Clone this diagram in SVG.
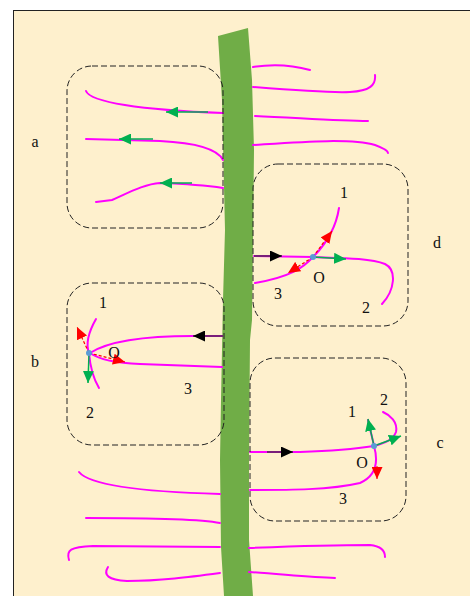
<svg xmlns="http://www.w3.org/2000/svg" width="470" height="596" viewBox="0 0 470 596">
<defs>
<style>
.mg{fill:none;stroke:#FF00FF;stroke-width:2;stroke-linecap:round}
.box{fill:none;stroke:#222;stroke-width:1;stroke-dasharray:6 3}
.lbl{font-family:"Liberation Serif",serif;font-size:16px;fill:#111;text-anchor:middle}
.gl{stroke:#00B050;stroke-width:1.5;fill:none}
.rl{stroke:#FF0000;stroke-width:1.2;fill:none;stroke-dasharray:3 2}
.bl{stroke:#7A1E7A;stroke-width:2;fill:none}
</style>
<marker id="ag" markerUnits="userSpaceOnUse" markerWidth="12" markerHeight="11" refX="12" refY="5.5" orient="auto"><path d="M0,0 L12,5.5 L0,11 z" fill="#00B050"/></marker>
<marker id="ar" markerUnits="userSpaceOnUse" markerWidth="12" markerHeight="11" refX="12" refY="5.5" orient="auto"><path d="M0,0 L12,5.5 L0,11 z" fill="#FF0000"/></marker>
<marker id="ak" markerUnits="userSpaceOnUse" markerWidth="12" markerHeight="11" refX="12" refY="5.5" orient="auto"><path d="M0,0 L12,5.5 L0,11 z" fill="#000"/></marker>
</defs>
<rect x="0" y="0" width="470" height="596" fill="#fff"/>
<rect x="13.5" y="10.5" width="470" height="600" fill="#FEF0CD" stroke="#222" stroke-width="1"/>

<g id="band">
<path d="M218,36 L222,100 L225,230 L223,300 L221,400 L220,460 L221,547 L224,596 L253,596 L249,540 L249,460 L250,340 L252,320 L253,240 L254,150 L252,80 L248,28 Z" fill="#70AD47"/>
</g>

<g id="connectors">
<path class="mg" d="M86,91 C90,102 140,110 223,113"/>
<path class="mg" d="M86,139 L160,141 C200,143 218,150 223,160"/>
<path class="mg" d="M96,202 L112,200 C130,192 145,184 160,183 C190,184 210,186 223,188"/>
<path class="mg" d="M253,67 C265,65 285,63 310,70"/>
<path class="mg" d="M253,87 C290,90 330,93 350,92 C370,91 376,85 375,75"/>
<path class="mg" d="M255,116 C300,118 340,121 368,121"/>
<path class="mg" d="M253,145 C300,142 350,138 375,145 C383,148 388,151 388,153"/>
<line class="gl" x1="208" y1="112" x2="166" y2="112" marker-end="url(#ag)"/>
<line class="gl" x1="153" y1="139" x2="119" y2="139" marker-end="url(#ag)"/>
<line class="gl" x1="192" y1="183" x2="160" y2="183" marker-end="url(#ag)"/>

<path class="mg" d="M254,256 L313,257 C340,258 370,258 385,264 C397,270 395,290 382,304"/>
<path class="mg" d="M339,208 C336,228 325,245 313,257 C303,268 290,277 255,283"/>
<line class="bl" x1="254" y1="256" x2="282" y2="256" marker-end="url(#ak)"/>
<line class="gl" x1="313" y1="257" x2="346" y2="259" marker-end="url(#ag)"/>
<line class="rl" x1="313" y1="257" x2="332" y2="231" marker-end="url(#ar)"/>
<line class="rl" x1="313" y1="257" x2="288" y2="273" marker-end="url(#ar)"/>

<path class="mg" d="M222,336 L193,336 C150,336 110,340 90,353 C100,360 115,363 140,364 L222,367"/>
<path class="mg" d="M96,319 C88,333 86,345 89,353 C90,365 93,378 99,388"/>
<line class="bl" x1="223" y1="336" x2="193" y2="336" marker-end="url(#ak)"/>
<line class="rl" x1="89" y1="353" x2="77" y2="327" marker-end="url(#ar)"/>
<line class="rl" x1="89" y1="353" x2="125" y2="362" marker-end="url(#ar)"/>
<line class="gl" x1="89" y1="353" x2="88" y2="383" marker-end="url(#ag)"/>

<path class="mg" d="M250,452 L300,452 C330,451 355,449 374,446"/>
<path class="mg" d="M374,446 C385,443 393,440 396,432 C398,422 390,415 383,412"/>
<path class="mg" d="M368,420 C370,430 373,440 374,446 C378,460 378,475 360,483 C330,490 290,490 250,490"/>
<line class="bl" x1="267" y1="452" x2="293" y2="452" marker-end="url(#ak)"/>
<line class="gl" x1="374" y1="446" x2="368" y2="419" marker-end="url(#ag)"/>
<line class="gl" x1="374" y1="446" x2="401" y2="436" marker-end="url(#ag)"/>
<line stroke="#FF0000" stroke-width="1" x1="377" y1="466" x2="377" y2="479" marker-end="url(#ar)"/>

<path class="mg" d="M79,472 C90,486 150,492 220,494"/>
<path class="mg" d="M86,518 C150,518 200,519 220,523"/>
<path class="mg" d="M69,560 C66,550 70,547 93,546 L220,547"/>
<path class="mg" d="M108,567 C103,575 108,580 127,581 C160,581 190,577 220,573"/>
<path class="mg" d="M249,548 C300,546 340,545 370,545 C380,546 385,550 385,557"/>
<path class="mg" d="M249,572 C280,574 310,577 335,578"/>
</g>

<g id="box-a"><rect class="box" x="67" y="66" width="156" height="162" rx="25"/><text class="lbl" x="35" y="147">a</text></g>
<g id="box-d"><rect class="box" x="253" y="164" width="155" height="162" rx="25"/><text class="lbl" x="437" y="248">d</text>
<circle cx="313" cy="257" r="3" fill="#5B9BD5"/>
<text class="lbl" x="344" y="198">1</text><text class="lbl" x="319" y="283">O</text><text class="lbl" x="278" y="299">3</text><text class="lbl" x="366" y="313">2</text></g>
<g id="box-b"><rect class="box" x="67" y="283" width="157" height="162" rx="25"/><text class="lbl" x="35" y="367">b</text>
<circle cx="89" cy="353" r="3" fill="#5B9BD5"/>
<text class="lbl" x="103" y="308">1</text><text class="lbl" x="114" y="358">O</text><text class="lbl" x="90" y="418">2</text><text class="lbl" x="188" y="394">3</text></g>
<g id="box-c"><rect class="box" x="250" y="358" width="156" height="163" rx="25"/><text class="lbl" x="440" y="448">c</text>
<circle cx="374" cy="446" r="3" fill="#5B9BD5"/>
<text class="lbl" x="352" y="417">1</text><text class="lbl" x="384" y="405">2</text><text class="lbl" x="362" y="468">O</text><text class="lbl" x="343" y="504">3</text></g>
</svg>
